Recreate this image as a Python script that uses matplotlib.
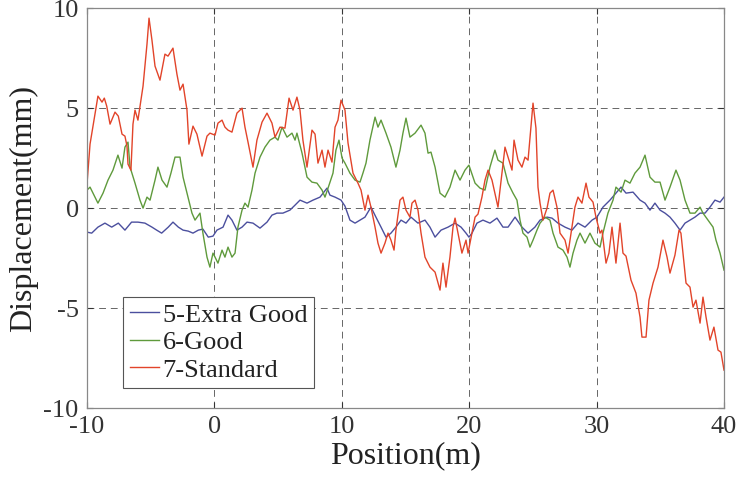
import matplotlib
matplotlib.use("Agg")
import matplotlib.pyplot as plt

# Track-irregularity displacement profiles for three track quality grades
pos_extra = [-10, -9.63, -9.14, -8.59, -8.06, -7.54, -7.02, -6.5, -6.0, -5.45, -4.9, -4.53, -4.14,
             -3.62, -3.25, -2.83, -2.46, -2.05, -1.68, -1.26, -0.9, -0.48, -0.11, 0.2, 0.68, 1.07,
             1.38, 1.77, 2.17, 2.56, 3.03, 3.58, 4.13, 4.52, 4.91, 5.38, 5.93, 6.33, 6.72, 7.27,
             7.74, 8.29, 8.84, 9.07, 9.47, 9.94, 10.25, 10.64, 11.04, 11.43, 11.82, 12.29, 12.68,
             13.08, 13.47, 13.86, 14.25, 14.65, 15.04, 15.43, 15.98, 16.53, 16.92, 17.32, 17.79,
             18.34, 18.89, 19.36, 19.75, 19.98, 20.22, 20.61, 21.08, 21.63, 22.18, 22.65, 23.05,
             23.6, 24.14, 24.62, 25.16, 25.56, 26.11, 26.5, 26.97, 27.52, 28.07, 28.54, 29.09,
             29.64, 30.03, 30.5, 31.05, 31.52, 31.92, 32.31, 32.86, 33.41, 33.8, 34.19, 34.58,
             34.98, 35.37, 35.76, 36.15, 36.55, 36.94, 37.33, 37.72, 38.12, 38.51, 38.9, 39.29,
             39.69, 40.0]
disp_extra = [-1.2, -1.25, -0.95, -0.75, -0.95, -0.75, -1.1, -0.7, -0.7, -0.75, -0.95, -1.1, -1.25,
              -0.95, -0.7, -0.95, -1.1, -1.15, -1.25, -1.1, -1.05, -1.45, -1.4, -1.1, -0.95, -0.35,
              -0.6, -1.1, -0.95, -0.7, -0.75, -1.0, -0.7, -0.35, -0.25, -0.25, -0.1, 0.15, 0.4, 0.25,
              0.4, 0.55, 1.0, 0.65, 0.55, 0.4, 0.1, -0.6, -0.75, -0.6, -0.45, 0.05, -0.45,
              -0.95, -1.45, -1.25, -0.95, -0.6, -0.75, -0.45, -0.75, -0.6, -0.95, -1.45, -1.1,
              -0.95, -0.75, -0.95, -1.25, -1.45, -1.25, -0.75, -0.6, -0.75, -0.5, -0.95, -0.95,
              -0.45, -0.95, -1.25, -0.95, -0.6, -0.45, -0.5, -0.75, -0.95, -1.1, -0.75, -0.95,
              -0.6, -0.45, 0.05, 0.4, 0.75, 1.05, 0.75, 0.8, 0.4, 0.25, -0.1, 0.25,
              -0.1, -0.25, -0.45, -0.75, -1.1, -0.75, -0.6, -0.45, -0.25, -0.25, 0.05, 0.4,
              0.3, 0.55]

pos_good = [-10, -9.76, -9.14, -8.74, -8.35, -7.96, -7.57, -7.25, -7.02, -6.78, -6.62, -6.23, -5.84,
            -5.6, -5.29, -5.05, -4.66, -4.43, -4.11, -3.72, -3.41, -3.09, -2.7, -2.46, -2.15, -1.76,
            -1.52, -1.13, -0.9, -0.58, -0.35, -0.11, 0.05, 0.28, 0.6, 0.83, 1.07, 1.38, 1.62, 1.85,
            2.17, 2.4, 2.64, 2.95, 3.19, 3.58, 3.97, 4.36, 4.76, 4.99, 5.31, 5.7, 6.09, 6.33, 6.48,
            6.88, 7.27, 7.66, 8.05, 8.45, 8.68, 8.92, 9.31, 9.54, 9.78, 10.02, 10.25, 10.64, 11.04,
            11.43, 11.66, 11.9, 12.21, 12.61, 12.84, 13.08, 13.47, 13.86, 14.25, 14.57, 14.8, 15.04,
            15.35, 15.75, 16.22, 16.53, 16.77, 17.0, 17.32, 17.71, 18.1, 18.49, 18.89, 19.28, 19.67,
            19.98, 20.46, 20.85, 21.24, 21.63, 22.02, 22.26, 22.65, 23.05, 23.44, 23.75, 23.99,
            24.22, 24.54, 24.77, 25.01, 25.32, 25.56, 25.95, 26.34, 26.58, 26.97, 27.36, 27.68,
            27.91, 28.15, 28.46, 28.7, 29.09, 29.48, 29.87, 30.27, 30.5, 30.89, 31.29, 31.52,
            31.92, 32.23, 32.62, 33.01, 33.41, 33.8, 34.19, 34.58, 34.98, 35.37, 35.76, 36.23,
            36.55, 36.94, 37.33, 37.72, 38.12, 38.35, 38.74, 39.14, 39.37, 39.69, 40.0]
disp_good = [0.9, 1.05, 0.25, 0.75, 1.4, 1.9, 2.65, 2.0, 3.05, 3.3, 2.05, 1.25, 0.4,
             0.0, 0.55, 0.4, 1.4, 2.05, 1.4, 1.05, 1.75, 2.55, 2.55, 1.55, 0.75, -0.25,
             -0.6, -0.25, -1.25, -2.45, -2.95, -2.25, -2.45, -2.75, -2.1, -2.45, -1.95, -2.45, -2.25, -0.95,
             -0.1, 0.25, 0.05, 0.9, 1.75, 2.55, 3.05, 3.4, 3.55, 3.4, 4.05, 3.55, 3.75, 3.4, 3.75,
             2.75, 1.55, 1.3, 1.25, 0.9, 0.55, 1.0, 1.75, 2.9, 3.4, 2.5, 2.25, 1.75, 1.4,
             1.3, 1.75, 2.25, 3.4, 4.55, 4.05, 4.4, 3.75, 3.05, 2.05, 2.9, 3.75, 4.5,
             3.55, 3.75, 4.15, 3.75, 2.75, 2.8, 2.05, 0.75, 0.55, 1.05, 1.9, 1.4, 1.9,
             2.15, 1.25, 1.0, 0.9, 2.05, 2.9, 2.4, 2.25, 1.25, 0.75, 0.4, -0.6,
             -1.25, -1.45, -1.95, -1.6, -1.1, -0.75, -0.45, -0.6, -1.25, -1.95, -2.1, -2.45,
             -2.95, -2.25, -1.6, -1.25, -1.75, -1.25, -1.75, -1.95, -1.25, -0.25, 0.4, 1.05,
             0.8, 1.4, 1.25, 1.75, 2.05, 2.65, 1.55, 1.3, 1.3, 0.4, 1.05, 1.9,
             1.4, 0.4, -0.25, -0.25, 0.05, -0.25, -0.6, -0.95, -1.6, -2.25, -3.1]

pos_std = [-10, -9.76, -9.14, -8.82, -8.64, -8.45, -8.19, -7.8, -7.54, -7.25, -7.02, -6.86, -6.78,
           -6.55, -6.39, -6.23, -6.0, -5.6, -5.29, -5.13, -4.9, -4.66, -4.27, -3.88, -3.64, -3.25,
           -2.94, -2.7, -2.46, -2.15, -2.0, -1.68, -1.37, -0.97, -0.58, -0.35, 0.05, 0.28, 0.6,
           0.83, 1.07, 1.38, 1.77, 2.17, 2.4, 2.64, 3.03, 3.34, 3.74, 4.13, 4.52, 4.76, 5.15,
           5.54, 5.86, 6.17, 6.48, 6.72, 6.95, 7.27, 7.66, 7.9, 8.13, 8.45, 8.68, 8.92, 9.23,
           9.47, 9.7, 9.94, 10.25, 10.49, 10.88, 11.27, 11.51, 11.82, 12.06, 12.29, 12.61, 12.84,
           13.08, 13.39, 13.63, 13.86, 14.1, 14.25, 14.57, 14.8, 15.04, 15.35, 15.51, 15.75,
           15.98, 16.22, 16.53, 16.92, 17.32, 17.71, 17.94, 18.18, 18.49, 18.73, 18.89, 19.12,
           19.43, 19.75, 19.91, 20.22, 20.46, 20.69, 21.0, 21.24, 21.48, 21.79, 22.02, 22.26,
           22.57, 22.81, 23.05, 23.36, 23.52, 23.83, 24.14, 24.38, 24.62, 24.85, 25.01, 25.24,
           25.4, 25.56, 25.79, 26.11, 26.34, 26.58, 26.89, 27.13, 27.52, 27.76, 28.07, 28.3,
           28.54, 28.85, 29.17, 29.4, 29.72, 29.95, 30.27, 30.42, 30.74, 30.97, 31.21, 31.52,
           31.84, 32.07, 32.31, 32.7, 33.09, 33.41, 33.56, 33.88, 34.11, 34.43, 34.82, 35.21,
           35.53, 35.76, 36.15, 36.47, 36.62, 36.86, 37.02, 37.33, 37.57, 37.8, 38.12, 38.35,
           38.59, 38.9, 39.21, 39.53, 39.76, 40.0]
disp_std = [1.2, 3.2, 5.6, 5.3, 5.5, 5.1, 4.2, 4.8, 4.6, 3.7, 3.6, 3.1, 2.2,
            1.9, 4.2, 4.9, 4.4, 6.1, 8.2, 9.5, 8.4, 7.1, 6.4, 7.7, 7.6, 8.0,
            6.7, 5.9, 6.2, 4.9, 3.2, 4.1, 3.7, 2.6, 3.6, 3.75, 3.65, 4.25, 4.4,
            4.05, 3.9, 3.8, 4.75, 5.0, 4.05, 3.3, 2.05, 3.4, 4.3, 4.75, 4.25, 3.55, 4.05,
            4.0, 5.5, 4.9, 5.55, 4.9, 3.4, 2.05, 3.9, 3.7, 2.25, 2.9, 2.05, 2.9, 2.3,
            4.05, 4.4, 5.4, 4.9, 3.25, 1.75, 1.25, 0.9, -0.1, 0.65, 0.05, -0.95, -1.75,
            -2.25, -1.75, -1.25, -1.6, -2.1, -1.1, 0.4, 0.55, -0.1, -0.45, 0.25, 0.4,
            -0.1, -1.25, -2.45, -2.95, -3.2, -4.1, -2.75, -3.95, -2.45, -0.95, -0.5, -1.25,
            -2.25, -1.6, -2.25, -1.25, -0.45, -0.3, 0.55, 1.4, 1.9, 1.4, 0.75, 0.05,
            1.75, 3.05, 2.55, 1.9, 3.4, 2.4, 2.05, 2.55, 2.4, 4.05, 5.25, 4.0,
            1.05, 0.25, -0.6, 0.0, 0.75, 0.9, 0.05, -1.25, -1.6, -2.25, -0.95, 0.05,
            0.55, 0.25, 1.25, 0.55, 0.3, -0.45, -1.25, -1.1, -2.75, -2.25, -0.95, -2.75,
            -0.75, -2.25, -2.4, -3.6, -4.25, -5.45, -6.45, -6.45, -4.6, -3.75, -2.95, -1.6,
            -2.45, -3.25, -2.35, -1.1, -1.25, -2.75, -3.75, -3.95, -4.95, -4.6, -5.75, -4.45,
            -5.45, -6.6, -5.95, -7.1, -7.2, -8.1]

series_labels = ["5-Extra Good", "6-Good", "7-Standard"]
x_ticks = [-10, 0, 10, 20, 30, 40]
y_ticks = [-10, -5, 0, 5, 10]

plt.rcParams["font.family"] = ["Liberation Serif", "DejaVu Serif"]
plt.rcParams["axes.unicode_minus"] = False

fig = plt.figure(figsize=(7.39, 4.79), dpi=100)
ax = fig.add_axes([0.1177, 0.148, 0.862, 0.835])

ax.plot(pos_extra, disp_extra, color="#4b4f9e", lw=1.0, label=series_labels[0])
ax.plot(pos_good, disp_good, color="#5f9a3c", lw=1.0, label=series_labels[1])
ax.plot(pos_std, disp_std, color="#e2442a", lw=1.0, label=series_labels[2])

ax.set_xlim(-10, 40)
ax.set_ylim(-10, 10)
ax.set_xticks(x_ticks)
ax.set_yticks(y_ticks)
ax.tick_params(direction="in", length=4, labelsize=19, colors="#333333",
               top=True, right=True, pad=6)
ax.grid(True, linestyle=(0, (7, 5)), color="#666666", lw=0.7)
for sp in ax.spines.values():
    sp.set_color("#888888")
    sp.set_linewidth(0.9)

ax.set_xlabel("Position(m)", fontsize=23, color="#222222", labelpad=2)
ax.set_ylabel("Displacement(mm)", fontsize=23, color="#222222", labelpad=4)

leg = ax.legend(loc="lower left", bbox_to_anchor=(0.0565, 0.05), borderaxespad=0,
                fontsize=19, handlelength=1.1, handletextpad=0.15, labelspacing=0.15,
                borderpad=0.25, fancybox=False, framealpha=1)
leg.get_frame().set_edgecolor("#555555")
leg.get_frame().set_linewidth(0.8)
for t in leg.get_texts():
    t.set_color("#222222")

fig.savefig("out.png", dpi=100)
